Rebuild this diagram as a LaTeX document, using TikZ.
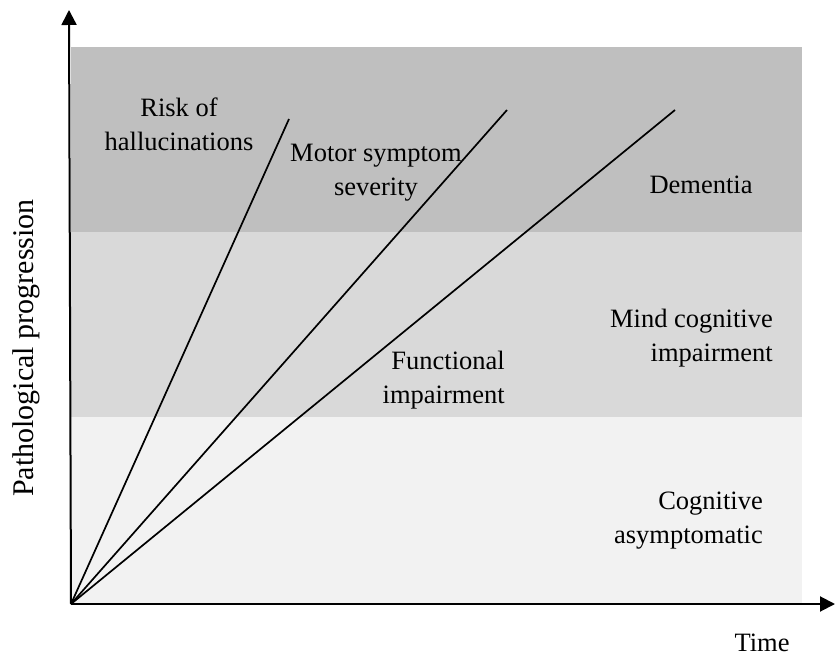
\documentclass[tikz,border=0pt]{standalone}
\usepackage{fontspec}
\setmainfont{Liberation Serif}
\usetikzlibrary{arrows.meta}
\definecolor{bandtop}{gray}{0.75}
\definecolor{bandmid}{gray}{0.85}
\definecolor{bandlow}{gray}{0.95}
\begin{document}
\begin{tikzpicture}[x=1pt,y=1pt,
  lbl/.style={inner sep=0pt,font=\fontsize{26.5}{34}\selectfont},
  axis/.style={line width=2pt,-{Triangle[length=15pt,width=15pt]}},
  trend/.style={line width=1.7pt}]
\useasboundingbox (0,0) rectangle (835,659);
% bands
\fill[bandlow] (71,55) rectangle (802,242);
\fill[bandmid] (71,242) rectangle (802,427);
\fill[bandtop] (71,427) rectangle (802,612);
% coordinates
\coordinate (O) at (71,55);
\coordinate (Ytip) at (69,649);
\coordinate (Xtip) at (835,55);
\coordinate (Htop) at (289,540);
\coordinate (Mtop) at (507,549);
\coordinate (Ftop) at (675,549);
% trend lines
\draw[trend] (O) -- (Htop);
\draw[trend] (O) -- (Mtop);
\draw[trend] (O) -- (Ftop);
% axes
\draw[axis] (O) -- (Ytip);
\draw[axis] (O) -- (Xtip);
% labels
\node[lbl,anchor=base,align=center] (risk) at (179,508) {Risk of\\hallucinations};
\node[lbl,anchor=base,align=center] (motor) at (376,463) {Motor symptom\\severity};
\node[lbl,anchor=base] (dem) at (701,465) {Dementia};
\node[lbl,anchor=base east,align=right] (mci) at (773,297) {Mind cognitive\\impairment};
\node[lbl,anchor=base east,align=right] (func) at (505,255) {Functional\\impairment};
\node[lbl,anchor=base east,align=right] (asym) at (763,116) {Cognitive\\asymptomatic};
\node[lbl,anchor=base] (time) at (762,8) {Time};
\node[lbl,anchor=base,rotate=90,font=\fontsize{30}{36}\selectfont] (ylab) at (33,311) {Pathological progression};
\end{tikzpicture}
\end{document}
